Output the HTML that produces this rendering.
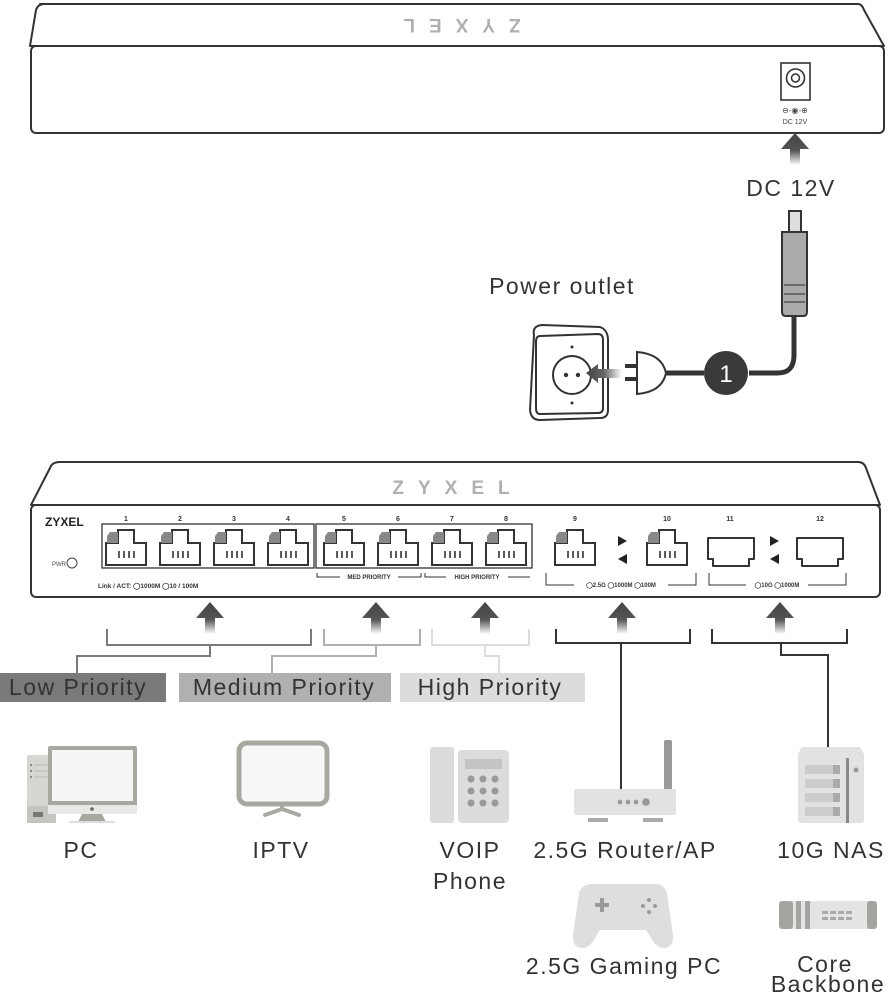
<!DOCTYPE html>
<html><head><meta charset="utf-8"><style>
html,body{margin:0;padding:0;background:#fff;}
svg{display:block;}
text{font-family:"Liberation Sans",sans-serif;}
</style></head><body>
<svg width="894" height="996" viewBox="0 0 894 996" xmlns="http://www.w3.org/2000/svg">
<defs>
<linearGradient id="ga" x1="0" y1="0" x2="0" y2="1">
<stop offset="0" stop-color="#444"/><stop offset="0.55" stop-color="#555"/><stop offset="1" stop-color="#fff"/>
</linearGradient>
<linearGradient id="gl" x1="0" y1="0" x2="1" y2="0">
<stop offset="0" stop-color="#444"/><stop offset="0.5" stop-color="#666"/><stop offset="1" stop-color="#fff"/>
</linearGradient>
<g id="arr"><path d="M0,0 L14,16 L5,16 L5,32 L-5,32 L-5,16 L-14,16 Z" fill="url(#ga)"/></g>
<g id="rj">
<path d="M0,13 H12 V0 H28 V13 H40 V35 H0 Z" fill="#fff" stroke="#333" stroke-width="2"/>
<path d="M1,6 L4,2 H12 V13 H1 Z" fill="#888"/>
<g stroke="#333" stroke-width="1.6"><line x1="13" y1="21" x2="13" y2="28"/><line x1="18" y1="21" x2="18" y2="28"/><line x1="23" y1="21" x2="23" y2="28"/><line x1="28" y1="21" x2="28" y2="28"/></g>
</g>
<g id="sfp"><path d="M0,0 H46 V21 H41 V28 H5 V21 H0 Z" fill="#fff" stroke="#333" stroke-width="2" stroke-linejoin="round"/></g>
</defs>

<!-- TOP SWITCH (rear) -->
<path d="M40,4 H858 Q862,4 864,10 L884,46 H30 L36,10 Q38,4 44,4 Z" fill="#fff" stroke="#333" stroke-width="2" stroke-linejoin="round"/>
<rect x="31" y="46" width="853" height="87" rx="5" fill="#fff" stroke="#333" stroke-width="2"/>
<text x="455" y="33" font-size="19" font-weight="bold" fill="#b0b0b0" text-anchor="middle" letter-spacing="14" transform="rotate(180 455 26)">ZYXEL</text>
<rect x="781" y="63" width="29" height="37" fill="#fff" stroke="#333" stroke-width="1.6"/>
<circle cx="795.5" cy="78" r="9" fill="none" stroke="#333" stroke-width="1.6"/>
<circle cx="795.5" cy="78" r="4" fill="none" stroke="#333" stroke-width="1.5"/>
<text x="795" y="113" font-size="8" fill="#444" text-anchor="middle">⊖-◉-⊕</text>
<text x="795" y="124" font-size="7" fill="#444" text-anchor="middle">DC 12V</text>
<use href="#arr" x="795" y="133"/>
<g font-size="23" fill="#333" text-anchor="middle" letter-spacing="1.5">
<text x="791" y="196">DC 12V</text>
<text x="562" y="294">Power outlet</text>
</g>

<!-- power -->
<path d="M534,335 Q532,326 542,325 L600,327 Q608,330 608,340 L608,410 Q608,418 600,418 L540,420 Q531,420 530,410 Z" fill="#fff" stroke="#333" stroke-width="2"/>
<path d="M540,336 L598,334 Q603,334 603,340 L603,408 Q603,413 598,413 L540,414 Q536,414 536,408 L536,342 Q536,336 540,336 Z" fill="#fff" stroke="#333" stroke-width="2"/>
<circle cx="572" cy="375" r="19" fill="#fff" stroke="#333" stroke-width="2"/>
<circle cx="566" cy="375" r="2.2" fill="#333"/><circle cx="578" cy="375" r="2.2" fill="#333"/>
<circle cx="572" cy="347" r="1.5" fill="#333"/><circle cx="572" cy="403" r="1.5" fill="#333"/>
<path d="M586,373 L598,364 L598,369 L622,369 L622,378 L598,378 L598,383 Z" fill="url(#gl)"/>
<rect x="625" y="364" width="12" height="4" fill="#333"/><rect x="625" y="377" width="12" height="4" fill="#333"/>
<path d="M637,352 Q662,354 666,373 Q662,392 637,394 Z" fill="#fff" stroke="#333" stroke-width="2"/>
<path d="M666,373 H704" stroke="#333" stroke-width="5"/>
<circle cx="726" cy="373" r="22" fill="#3a3a3a"/>
<text x="726" y="382" font-size="24" fill="#fff" text-anchor="middle">1</text>
<path d="M749,373 H778 Q794,373 794,355 V310" fill="none" stroke="#333" stroke-width="5"/>
<path d="M789,211 H801 V232 H789 Z" fill="#ddd" stroke="#333" stroke-width="2"/>
<path d="M782,232 H807 V312 Q807,316 803,316 H786 Q782,316 782,312 Z" fill="#aaa" stroke="#333" stroke-width="2"/>
<g stroke="#555" stroke-width="1.5"><line x1="784" y1="285" x2="805" y2="285"/><line x1="784" y1="294" x2="805" y2="294"/><line x1="784" y1="302" x2="805" y2="302"/></g>

<!-- BOTTOM SWITCH (front) -->
<path d="M60,462 H858 Q864,462 866,468 L880,505 H31 L50,468 Q52,462 60,462 Z" fill="#fff" stroke="#333" stroke-width="2" stroke-linejoin="round"/>
<rect x="31" y="505" width="849" height="92" rx="5" fill="#fff" stroke="#333" stroke-width="2"/>
<text x="458" y="494" font-size="19" font-weight="bold" fill="#b0b0b0" text-anchor="middle" letter-spacing="14">ZYXEL</text>
<text x="45" y="526" font-size="12" font-weight="bold" fill="#222">ZYXEL</text>
<text x="52" y="566" font-size="6" fill="#444">PWR</text>
<circle cx="72" cy="563" r="5" fill="#fff" stroke="#444" stroke-width="1"/>
<rect x="102" y="524" width="212" height="44" fill="none" stroke="#333" stroke-width="1.3"/>
<rect x="316" y="524" width="216" height="44" fill="none" stroke="#333" stroke-width="1.3"/>
<g font-size="7" fill="#333" text-anchor="middle" font-weight="bold">
<text x="126" y="521">1</text><text x="180" y="521">2</text><text x="234" y="521">3</text><text x="288" y="521">4</text>
<text x="344" y="521">5</text><text x="398" y="521">6</text><text x="452" y="521">7</text><text x="506" y="521">8</text>
<text x="575" y="521">9</text><text x="667" y="521">10</text><text x="730" y="521">11</text><text x="820" y="521">12</text>
</g>
<use href="#rj" x="106" y="530"/><use href="#rj" x="160" y="530"/><use href="#rj" x="214" y="530"/><use href="#rj" x="268" y="530"/>
<use href="#rj" x="324" y="530"/><use href="#rj" x="378" y="530"/><use href="#rj" x="432" y="530"/><use href="#rj" x="486" y="530"/>
<use href="#rj" x="555" y="530"/><use href="#rj" x="647" y="530"/>
<use href="#sfp" x="708" y="538"/><use href="#sfp" x="797" y="538"/>
<g fill="#222"><path d="M618,536 L627,541 L618,546 Z"/><path d="M627,554 L618,559 L627,564 Z"/>
<path d="M770,536 L779,541 L770,546 Z"/><path d="M779,554 L770,559 L779,564 Z"/></g>
<text x="98" y="588" font-size="6.5" fill="#333" font-weight="bold">Link / ACT: ◯1000M ◯10 / 100M</text>
<g fill="none" stroke="#333" stroke-width="1">
<path d="M317,573 V577 H421 V573"/><path d="M425,573 V577 H530"/>
<path d="M546,573 V585 H696 V573"/><path d="M709,573 V585 H846 V573"/>
</g>
<g font-size="6" fill="#333" font-weight="bold" text-anchor="middle">
<rect x="340" y="573" width="58" height="8" fill="#fff"/><text x="369" y="579">MED PRIORITY</text>
<rect x="446" y="573" width="62" height="8" fill="#fff"/><text x="477" y="579">HIGH PRIORITY</text>
<rect x="574" y="581" width="94" height="8" fill="#fff"/><text x="621" y="587">◯2.5G ◯1000M ◯100M</text>
<rect x="746" y="581" width="62" height="8" fill="#fff"/><text x="777" y="587">◯10G ◯1000M</text>
</g>

<!-- arrows + brackets -->
<use href="#arr" x="210" y="602"/><use href="#arr" x="376" y="602"/><use href="#arr" x="485" y="602"/>
<use href="#arr" x="622" y="602"/><use href="#arr" x="780" y="602"/>
<g fill="none" stroke-width="2">
<path d="M107,629 V645 H311 V629 M210,645 V656 H77 V673" stroke="#7a7a7a"/>
<path d="M324,629 V645 H420 V629 M376,645 V656 H272 V673" stroke="#b0b0b0"/>
<path d="M432,629 V645 H529 V629 M485,645 V656 H499 V673" stroke="#dcdcdc"/>
<path d="M556,629 V643 H690 V629 M621,643 V790" stroke="#333"/>
<path d="M712,629 V643 H847 V629 M781,643 V655 H828 V747" stroke="#333"/>
</g>
<rect x="0" y="673" width="166" height="29" fill="#7a7a7a"/>
<rect x="179" y="673" width="212" height="29" fill="#b0b0b0"/>
<rect x="400" y="673" width="185" height="29" fill="#dcdcdc"/>
<g font-size="23" fill="#333" text-anchor="middle" letter-spacing="1.5">
<text x="78" y="695">Low Priority</text><text x="284" y="695">Medium Priority</text><text x="490" y="695">High Priority</text>
</g>

<!-- PC -->
<rect x="27" y="755" width="29" height="68" rx="2" fill="#d6d6d3"/>
<rect x="27" y="806" width="29" height="17" fill="#c4c4c0"/>
<rect x="33" y="812" width="10" height="5" fill="#777"/>
<g fill="#888"><rect x="30" y="764" width="2" height="2"/><rect x="30" y="770" width="2" height="2"/><rect x="30" y="776" width="2" height="2"/></g>
<g stroke="#bbb" stroke-width="1"><line x1="34" y1="765" x2="48" y2="765"/><line x1="34" y1="771" x2="48" y2="771"/><line x1="34" y1="777" x2="48" y2="777"/></g>
<rect x="48" y="746" width="89" height="68" rx="2" fill="#a8a8a3"/>
<rect x="52" y="750" width="81" height="51" fill="#f5f5f5"/>
<rect x="48" y="805" width="89" height="9" fill="#e8e8e6"/>
<circle cx="92" cy="809" r="1.8" fill="#666"/>
<path d="M82,814 H102 L106,822 H78 Z" fill="#a8a8a3"/>
<rect x="69" y="821" width="46" height="2" fill="#ddd"/>
<!-- TV -->
<rect x="239" y="743" width="88" height="61" rx="8" fill="#f7f7f7" stroke="#a8a8a3" stroke-width="5"/>
<path d="M265,815 L282,809 L299,815" fill="none" stroke="#a8a8a3" stroke-width="4" stroke-linecap="round"/>
<line x1="282" y1="804" x2="282" y2="809" stroke="#a8a8a3" stroke-width="4"/>
<!-- phone -->
<rect x="430" y="747" width="24" height="76" rx="3" fill="#dcdcdc"/>
<rect x="458" y="750" width="51" height="73" rx="4" fill="#dcdcdc"/>
<rect x="465" y="759" width="37" height="10" fill="#c4c4c2"/>
<g fill="#999"><circle cx="471" cy="779" r="3.5"/><circle cx="483" cy="779" r="3.5"/><circle cx="495" cy="779" r="3.5"/>
<circle cx="471" cy="791" r="3.5"/><circle cx="483" cy="791" r="3.5"/><circle cx="495" cy="791" r="3.5"/>
<circle cx="471" cy="803" r="3.5"/><circle cx="483" cy="803" r="3.5"/><circle cx="495" cy="803" r="3.5"/></g>
<!-- router -->
<rect x="664" y="740" width="8" height="50" rx="2" fill="#999"/>
<rect x="574" y="789" width="102" height="26" rx="2" fill="#e2e2e0"/>
<g fill="#999"><circle cx="620" cy="802" r="2.4"/><circle cx="628" cy="802" r="2.4"/><circle cx="636" cy="802" r="2.4"/><circle cx="646" cy="802" r="3.8"/></g>
<rect x="588" y="818" width="20" height="4" fill="#aaa"/><rect x="643" y="818" width="20" height="4" fill="#aaa"/>
<!-- NAS -->
<path d="M802,747 H860 L864,754 V820 Q864,823 860,823 H802 Q798,823 798,820 V754 Z" fill="#e2e2e0"/>
<g fill="#ccc"><rect x="805" y="765" width="28" height="9"/><rect x="805" y="779" width="28" height="9"/><rect x="805" y="793" width="28" height="9"/><rect x="805" y="807" width="28" height="9"/></g>
<g fill="#aaa"><rect x="833" y="765" width="7" height="9"/><rect x="833" y="779" width="7" height="9"/><rect x="833" y="793" width="7" height="9"/><rect x="833" y="807" width="7" height="9"/></g>
<rect x="846" y="758" width="3" height="65" fill="#888"/>
<circle cx="856" cy="770" r="2.5" fill="#999"/>
<!-- gamepad -->
<path d="M592,884 H656 Q664,884 667,893 L673,935 Q674,948 663,948 Q656,948 650,936 L646,930 H600 L596,936 Q590,948 583,948 Q572,948 573,935 L579,893 Q582,884 592,884 Z" fill="#dedede"/>
<g fill="#999"><rect x="595" y="903" width="14" height="4"/><rect x="600" y="898" width="4" height="14"/>
<circle cx="649" cy="900" r="2"/><circle cx="649" cy="912" r="2"/><circle cx="643" cy="906" r="2"/><circle cx="655" cy="906" r="2"/></g>
<!-- core backbone -->
<rect x="779" y="901" width="98" height="28" rx="3" fill="#e4e4e2"/>
<rect x="779" y="901" width="14" height="28" rx="3" fill="#a4a4a0"/>
<rect x="796" y="901" width="5" height="28" fill="#a4a4a0"/><rect x="805" y="901" width="5" height="28" fill="#a4a4a0"/>
<rect x="867" y="901" width="10" height="28" rx="3" fill="#a4a4a0"/>
<g fill="#aaa"><rect x="822" y="911" width="6" height="3"/><rect x="830" y="911" width="6" height="3"/><rect x="838" y="911" width="6" height="3"/><rect x="846" y="911" width="6" height="3"/>
<rect x="822" y="917" width="6" height="3"/><rect x="830" y="917" width="6" height="3"/><rect x="838" y="917" width="6" height="3"/><rect x="846" y="917" width="6" height="3"/></g>

<g font-size="23" fill="#333" text-anchor="middle" letter-spacing="1.5">
<text x="81" y="858">PC</text><text x="281" y="858">IPTV</text>
<text x="470" y="858">VOIP</text><text x="470" y="889">Phone</text>
<text x="625" y="858">2.5G Router/AP</text><text x="831" y="858">10G NAS</text>
<text x="624" y="974">2.5G Gaming PC</text>
<text x="825" y="972">Core</text><text x="828" y="992">Backbone</text>
</g>
</svg>
</body></html>
